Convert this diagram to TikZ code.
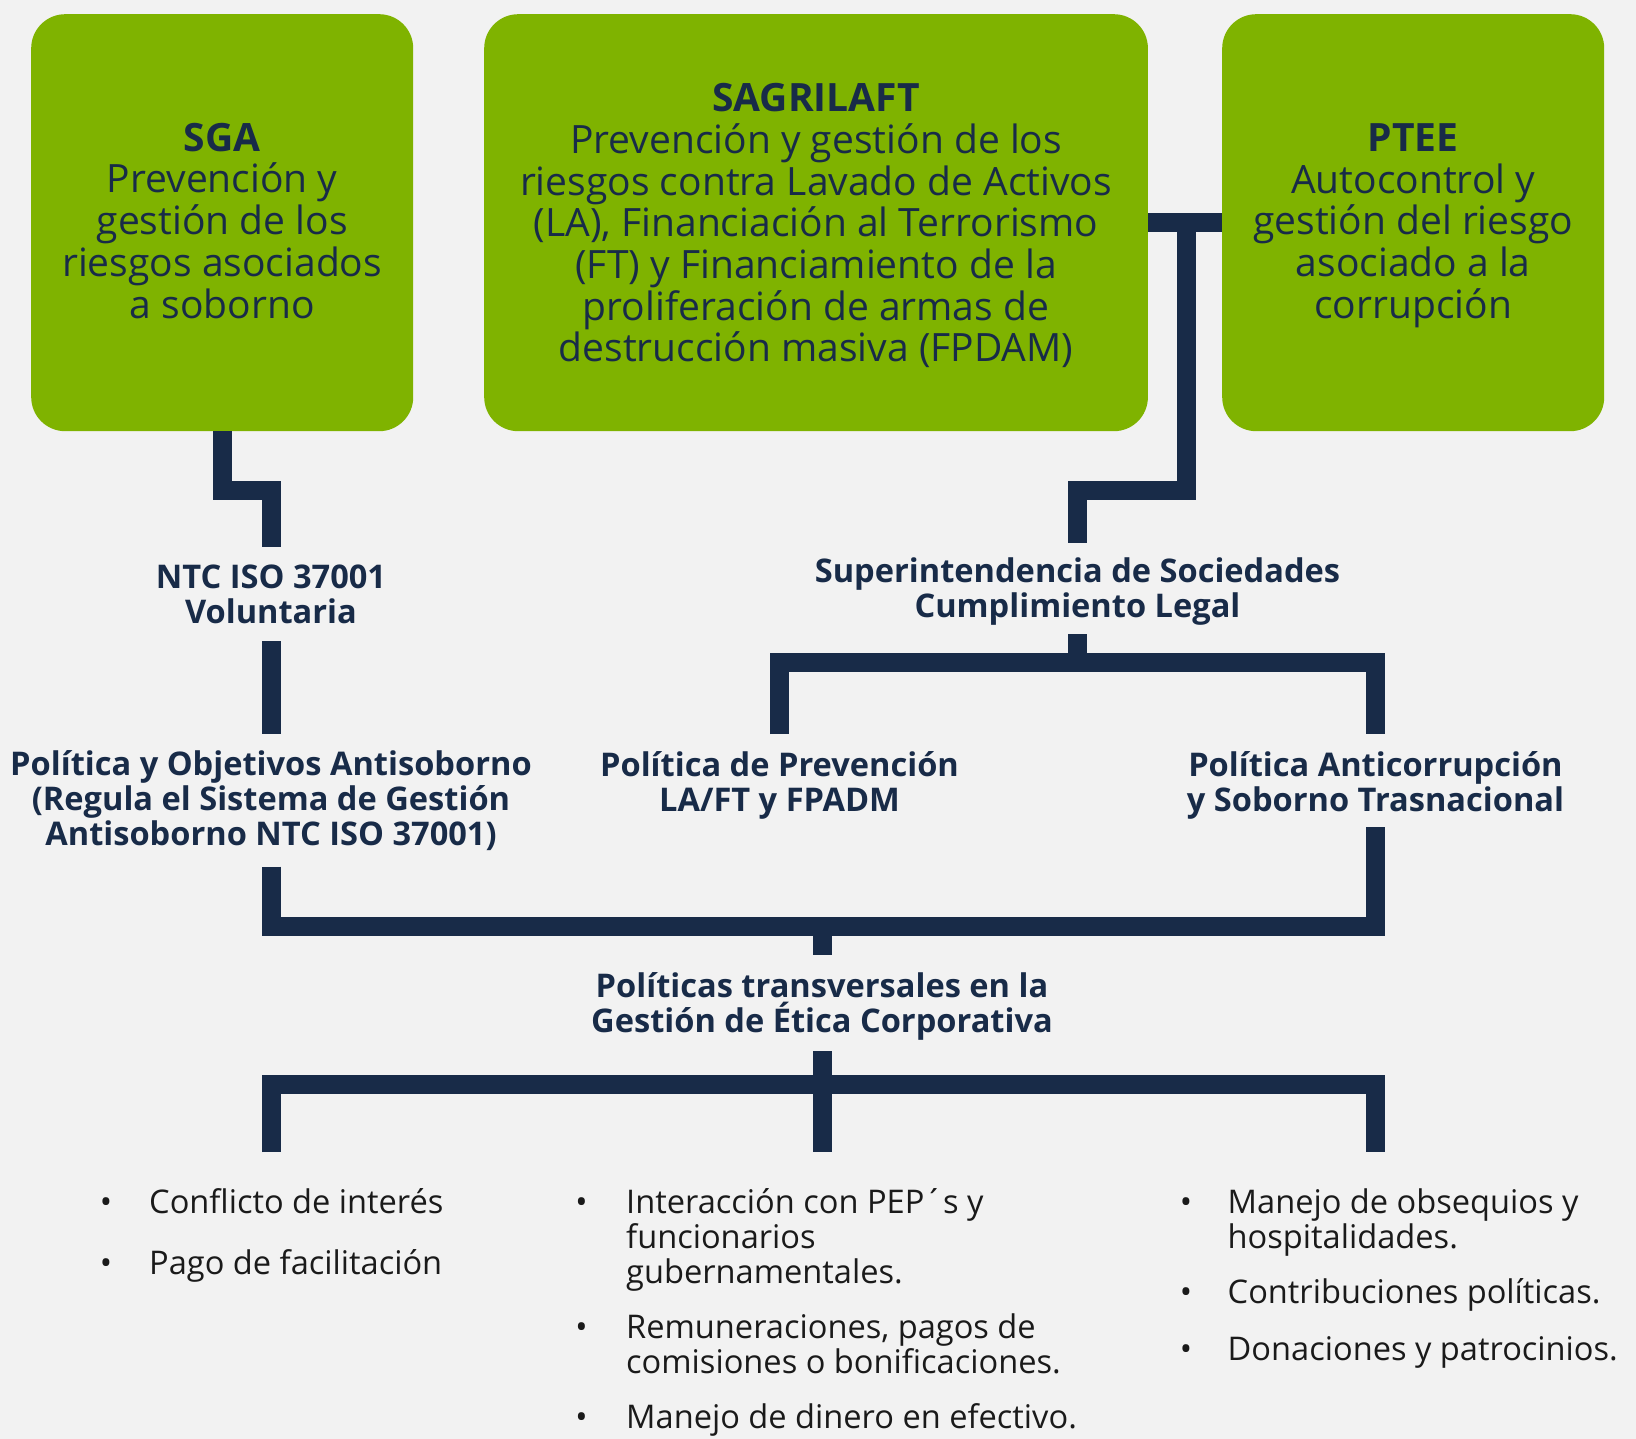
\documentclass[tikz,border=0pt]{standalone}
\usepackage{fontspec}
\setmainfont{Open Sans}
\definecolor{bg}{HTML}{F2F2F2}
\definecolor{grn}{HTML}{7FB300}
\definecolor{navy}{HTML}{182B48}
\definecolor{txt}{HTML}{1A1A1A}
\begin{document}
\begin{tikzpicture}[x=1pt,y=-1pt,
  box/.style={fill=grn, draw=none, rounded corners=34pt, inner sep=0pt, anchor=north west,
    minimum height=417pt},
  boxtxt/.style={align=center, text=navy, inner sep=0pt, font=\fontsize{39}{41.7}\selectfont},
  conn/.style={draw=navy, line width=19pt, line join=miter, line cap=butt},
  lbl/.style={text=navy, align=center, inner sep=0pt, font=\bfseries\fontsize{32.6}{35}\selectfont},
  item/.style={text=txt, align=left, inner sep=0pt, anchor=base west, font=\fontsize{32.6}{35}\selectfont},
  bul/.style={text=txt, inner sep=0pt, anchor=base, font=\fontsize{32.6}{35}\selectfont}
]
\fill[bg] (0,0) rectangle (1636,1439);
\useasboundingbox (0,0) rectangle (1636,1439);

% boxes
\node[box, minimum width=382pt] (sga) at (31,14) {};
\node[box, minimum width=663.7pt] (sag) at (484,14) {};
\node[box, minimum width=382pt] (ptee) at (1222,14) {};
\node[boxtxt] (sgat) at ([yshift=2pt]sga.center)
  {{\bfseries SGA}\\Prevención y\\gestión de los\\riesgos asociados\\a soborno};
\node[boxtxt] (sagt) at ([yshift=-3pt]sag.center)
  {{\bfseries SAGRILAFT}\\Prevención y gestión de los\\riesgos contra Lavado de Activos\\(LA), Financiación al Terrorismo\\(FT) y Financiamiento de la\\proliferación de armas de\\destrucción masiva (FPDAM)};
\node[boxtxt] (pteet) at ([yshift=-3pt]ptee.center)
  {{\bfseries PTEE}\\Autocontrol y\\gestión del riesgo\\asociado a la\\corrupción};

% labels
\node[lbl] (ntc) at (271,594.5) {NTC ISO 37001\\Voluntaria};
\node[lbl] (pol1) at (271,801) {Política y Objetivos Antisoborno\\(Regula el Sistema de Gestión\\Antisoborno NTC ISO 37001)};
\node[lbl] (sup) at (1077.5,592) {Superintendencia de Sociedades\\Cumplimiento Legal};
\node[lbl] (pol2) at (779.5,785) {Política de Prevención\\LA/FT y FPADM};
\node[lbl] (pol3) at (1375.5,785) {Política Anticorrupción\\y Soborno Trasnacional};
\node[lbl] (trans) at (822,1006) {Políticas transversales en la\\Gestión de Ética Corporativa};

% connector end points
\coordinate (ntcT) at (271,547);
\coordinate (ntcB) at (271,641);
\coordinate (pol1T) at (271,734);
\coordinate (pol1B) at (271,866.5);
\coordinate (supT) at (1077.5,543);
\coordinate (supB) at (1077.5,634);
\coordinate (pol2T) at (779.5,734);
\coordinate (pol3T) at (1375.5,734);
\coordinate (pol3B) at (1375.5,827);
\coordinate (transT) at (822,955);
\coordinate (transB) at (822,1051);
\coordinate (c1) at (271,1152);
\coordinate (c2) at (822,1152);
\coordinate (c3) at (1375.5,1152);

% connectors
\draw[conn] (sga.south) |- (271,490.5) -- (ntcT);
\draw[conn] (ntcB) -- (pol1T);
\draw[conn] (sag.east) -- (ptee.west);
\draw[conn] (1186,222.5) |- (1077.5,490) -- (supT);
\draw[conn] (supB) -- (1077.5,662.7);
\draw[conn] (pol2T) |- (1375.5,662.7) -- (pol3T);
\draw[conn] (pol1B) |- (1375.5,926) -- (pol3B);
\draw[conn] (822,926) -- (transT);
\draw[conn] (transB) -- (c2);
\draw[conn] (c1) |- (1375.5,1084.5) -- (c3);

% bullet lists
\node[bul] (b11) at (106,1213) {•};
\node[item] (i11) at (149,1213) {Conflicto de interés};
\node[bul] (b12) at (106,1274) {•};
\node[item] (i12) at (149,1274) {Pago de facilitación};

\node[bul] (b21) at (581.5,1213) {•};
\node[item] (i21) at (626,1283) {Interacción con PEP´s y\\funcionarios\\gubernamentales.};
\node[bul] (b22) at (581.5,1338) {•};
\node[item] (i22) at (626,1373) {Remuneraciones, pagos de\\comisiones o bonificaciones.};
\node[bul] (b23) at (581.5,1428) {•};
\node[item] (i23) at (626,1428) {Manejo de dinero en efectivo.};

\node[bul] (b31) at (1186,1213) {•};
\node[item] (i31) at (1227.5,1248) {Manejo de obsequios y\\hospitalidades.};
\node[bul] (b32) at (1186,1303) {•};
\node[item] (i32) at (1227.5,1303) {Contribuciones políticas.};
\node[bul] (b33) at (1186,1360) {•};
\node[item] (i33) at (1227.5,1360) {Donaciones y patrocinios.};
\end{tikzpicture}
\end{document}
